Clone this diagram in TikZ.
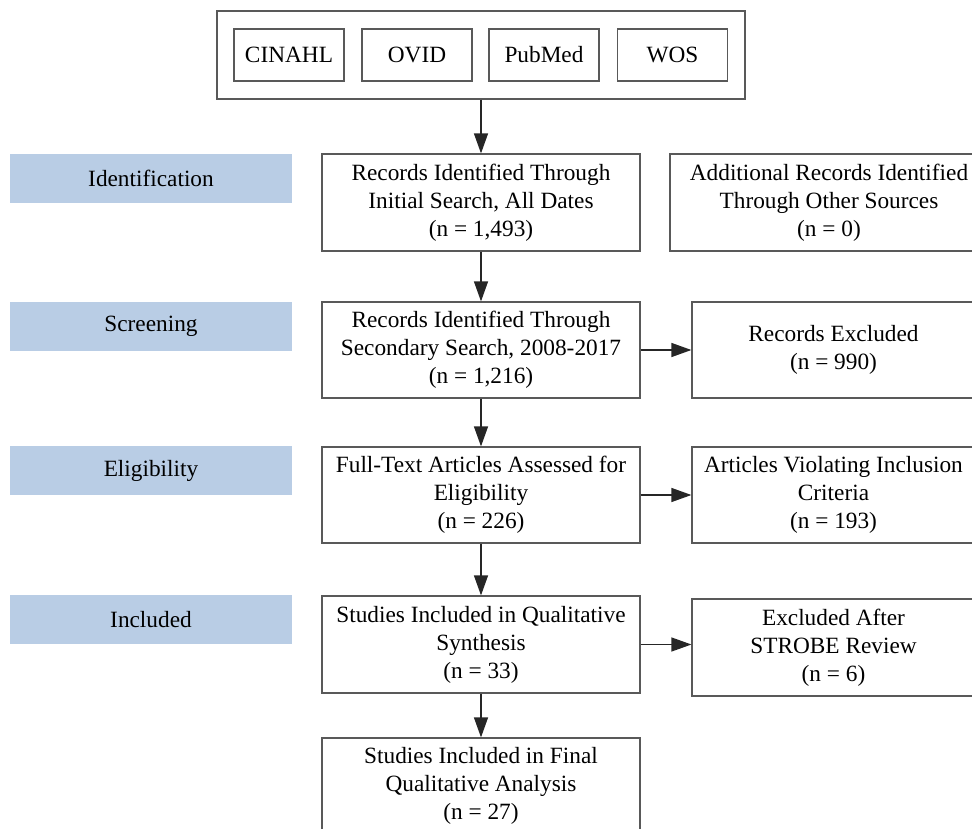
\documentclass[tikz,border=0pt]{standalone}
\usepackage{fontspec}
\setmainfont{Liberation Serif}
\usepackage{tikz}
\usetikzlibrary{arrows.meta}
\definecolor{stageblue}{HTML}{B9CDE5}

\begin{document}
\begin{tikzpicture}[x=1pt,y=-1pt,
    box/.style={draw=black!65,line width=1.2pt,align=center,inner sep=0pt,
      font=\fontsize{23.3}{28}\selectfont},
    stage/.style={fill=stageblue,inner sep=0pt,minimum width=282pt,minimum height=49pt,
      font=\fontsize{23.3}{28}\selectfont},
    flow/.style={-{Triangle[length=20pt,width=14pt]},line width=1.3pt,black!85}]
  \useasboundingbox (0,0) rectangle (972,829);
  \clip (0,0) rectangle (972,829);

  % Databases
  \node[box,minimum width=528pt,minimum height=88pt] (db) at (481,55) {};
  \node[box,minimum width=110pt,minimum height=52pt] (cinahl) at (289,55) {CINAHL};
  \node[box,minimum width=110pt,minimum height=52pt] (ovid) at (417,55) {OVID};
  \node[box,minimum width=110pt,minimum height=52pt] (pubmed) at (544,55) {PubMed};
  \node[box,minimum width=110pt,minimum height=52pt] (wos) at (672.5,55) {WOS};

  % Stages
  \node[stage] (identification) at (151,178.5) {Identification};
  \node[stage] (screening) at (151,326.5) {Screening};
  \node[stage] (eligibility) at (151,470.5) {Eligibility};
  \node[stage] (included) at (151,619.5) {Included};

  % Main flow
  \node[box,minimum width=318pt,minimum height=97pt] (initial) at (481,202.5)
    {Records Identified Through\\Initial Search, All Dates\\(n = 1,493)};
  \node[box,minimum width=318pt,minimum height=96pt] (secondary) at (481,350)
    {Records Identified Through\\Secondary Search, 2008-2017\\(n = 1,216)};
  \node[box,minimum width=318pt,minimum height=96pt] (fulltext) at (481,495)
    {Full-Text Articles Assessed for\\Eligibility\\(n = 226)};
  \node[box,minimum width=318pt,minimum height=97pt] (synthesis) at (481,644.5)
    {Studies Included in Qualitative\\Synthesis\\(n = 33)};
  \node[box,minimum width=318pt,minimum height=96pt] (final) at (481,786)
    {Studies Included in Final\\Qualitative Analysis\\(n = 27)};

  % Side boxes
  \node[box,minimum width=318pt,minimum height=97pt] (other) at (829,202.5)
    {Additional Records Identified\\Through Other Sources\\(n = 0)};
  \node[box,minimum width=283pt,minimum height=96pt] (excluded) at (833.5,350)
    {Records Excluded\\(n = 990)};
  \node[box,minimum width=283pt,minimum height=96pt] (violating) at (833.5,495)
    {Articles Violating Inclusion\\Criteria\\(n = 193)};
  \node[box,minimum width=283pt,minimum height=97pt] (strobe) at (833.5,647.5)
    {Excluded After\\STROBE Review\\(n = 6)};

  % Arrows
  \draw[flow] (db) -- (initial);
  \draw[flow] (initial) -- (secondary);
  \draw[flow] (secondary) -- (fulltext);
  \draw[flow] (fulltext) -- (synthesis);
  \draw[flow] (synthesis) -- (final);
  \draw[flow] (secondary.east) -- (secondary.east -| excluded.west);
  \draw[flow] (fulltext.east) -- (fulltext.east -| violating.west);
  \draw[flow] (synthesis.east) -- (synthesis.east -| strobe.west);
\end{tikzpicture}
\end{document}
